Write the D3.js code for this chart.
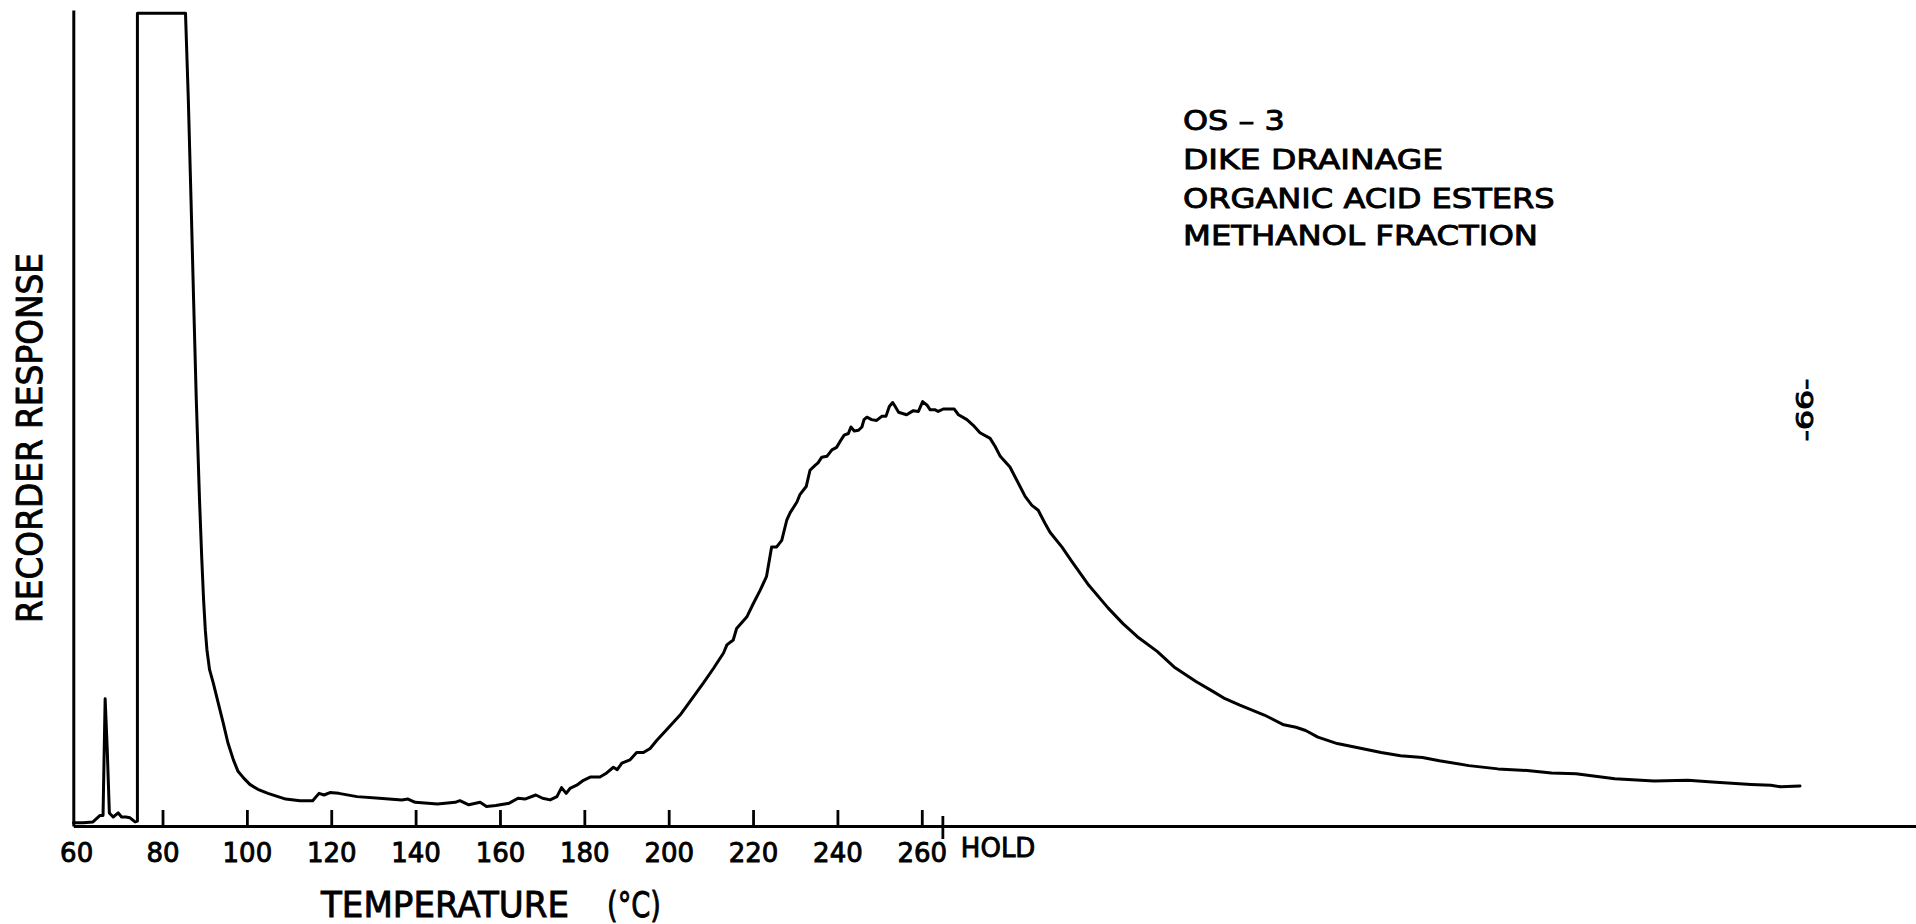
<!DOCTYPE html>
<html><head><meta charset="utf-8">
<script src="https://cdn.jsdelivr.net/npm/d3@7"></script>
<style>
body{margin:0;background:#fff}
svg{display:block}
text{font-family:"DejaVu Sans",sans-serif;fill:#000;stroke:#000;stroke-width:0.9px}
</style>
</head><body>
<svg id="chart" width="1916" height="924"></svg>
<script>
// Chart position along the (temperature-programmed) x axis, °C scale
const temps = [58.9,61.2,63.5,65.2,65.9,66.4,66.9,67.4,68.3,69.5,70.3,71.3,72.3,73.5,74.05,74.05,85.45,86.12,86.76,87.37,88.01,88.77,89.32,89.74,90.15,90.53,91.14,92.04,93.2,94.4,95.5,96.8,97.9,99.2,100.7,102.6,105.0,109.2,112.6,115.6,117.1,118.3,119.7,121.8,126.1,131.4,136.7,138.2,139.9,145.2,149.4,150.5,152.6,155.3,156.8,159.0,162.2,164.3,165.9,168.5,170.1,171.9,173.5,174.6,175.7,176.6,178.2,179.8,181.4,183.7,185.3,186.9,187.8,188.9,190.8,192.4,194.0,195.6,197.2,199.5,202.7,205.8,208.2,210.6,213.0,213.8,215.3,216.1,218.5,220.1,221.7,223.2,224.0,224.4,225.6,226.8,228.0,228.8,230.4,231.1,232.6,233.5,234.7,235.4,236.3,237.5,238.7,239.8,240.6,241.6,242.6,243.2,244.0,245.0,245.8,246.3,247.0,248.1,249.3,250.5,251.5,252.3,253.1,253.7,254.5,256.4,258.0,259.2,260.2,261.2,262.0,263.2,263.9,265.1,266.7,267.7,268.7,270.7,272.2,273.8,276.2,277.4,278.6,280.9,282.5,284.5,286.1,287.6,289.2,290.4,293.2,295.6,299.6,304.2,307.7,311.1,315.8,319.8,325.0,329.0,331.9,335.4,341.2,345.8,348.7,351.0,353.9,358.5,364.3,368.9,373.5,378.7,382.7,389.7,396.6,403.5,409.3,415.1,424.3,433.6,441.6,447.4,456.6,461.3,463.6,468.2];
// Recorder response (arbitrary units, 0 = baseline, 100 = full scale)
const response = [0.4,0.4,0.5,1.3,1.3,15.6,9.3,1.6,1.1,1.6,1.1,1.1,1.0,0.5,0.6,99.6,99.6,89.0,76.7,64.5,52.2,40.0,32.6,27.7,24.0,21.6,19.2,17.5,15.1,12.6,10.2,8.1,6.7,5.9,5.1,4.5,4.0,3.3,3.1,3.1,4.0,3.8,4.1,4.0,3.6,3.4,3.2,3.3,2.9,2.7,2.9,3.1,2.6,2.9,2.4,2.5,2.8,3.4,3.3,3.8,3.4,3.2,3.6,4.7,4.0,4.6,5.0,5.6,6.0,6.0,6.5,7.2,6.9,7.7,8.1,9.0,9.0,9.5,10.5,11.8,13.6,15.8,17.5,19.3,21.2,22.2,22.8,24.2,25.6,27.3,28.9,30.6,33.0,34.2,34.2,35.0,37.5,38.4,39.7,40.6,41.6,43.6,44.2,44.5,45.2,45.3,46.1,46.4,47.1,47.9,48.1,48.9,48.4,48.5,48.9,49.8,50.1,49.8,49.7,50.2,50.2,51.4,51.9,51.4,50.7,50.4,50.9,50.8,52.0,51.6,51.0,51.0,50.8,51.1,51.1,51.1,50.4,49.8,49.1,48.2,47.5,46.5,45.3,44.0,42.4,40.4,39.3,38.7,37.1,36.0,34.2,32.4,29.5,26.7,24.8,23.2,21.4,19.5,17.7,16.5,15.6,14.8,13.6,12.4,12.1,11.7,10.9,10.1,9.5,9.0,8.6,8.4,8.0,7.4,7.0,6.8,6.5,6.4,5.8,5.5,5.6,5.4,5.1,5.0,4.8,4.9];
const tickTemps = [60,80,100,120,140,160,180,200,220,240,260];
const holdTemp = 265;
const holdLabel = "HOLD";
const xTitle = ["TEMPERATURE", "(°C)"];
const yTitle = "RECORDER RESPONSE";
const titleLines = ["OS – 3", "DIKE DRAINAGE", "ORGANIC ACID ESTERS", "METHANOL FRACTION"];
const pageNumber = "-66-";

const svg = d3.select("#chart");
const x = d3.scaleLinear().domain([58.85, 495.7]).range([73.3, 1916]);
const y = d3.scaleLinear().domain([0, 100]).range([826, 10]);

// X axis
const xAxis = d3.axisBottom(x).tickValues(tickTemps).tickSizeInner(-16).tickSizeOuter(0)
  .tickPadding(18).tickFormat(d3.format("d"));
const gx = svg.append("g").attr("transform", "translate(0," + y(0) + ")").call(xAxis);
gx.select(".domain").attr("stroke", "#000").attr("stroke-width", 3);
gx.selectAll(".tick line").attr("stroke", "#000").attr("stroke-width", 2.8);
gx.selectAll(".tick").filter(d => d === 60).select("line").remove();
gx.selectAll(".tick").filter(d => d === 60).select("text").attr("dx", -2);
gx.selectAll(".tick text").attr("font-size", 26).attr("font-family", "DejaVu Sans").attr("fill", "#000");

// Y axis (line only)
const yAxis = d3.axisLeft(y).tickValues([]).tickSizeOuter(0);
const gy = svg.append("g").attr("transform", "translate(" + x.range()[0] + ",0)").call(yAxis);
gy.select(".domain").attr("stroke", "#000").attr("stroke-width", 3);

// HOLD marker
svg.append("line").attr("x1", x(holdTemp)).attr("x2", x(holdTemp))
  .attr("y1", y(0) - 10).attr("y2", y(0) + 13).attr("stroke", "#000").attr("stroke-width", 2.8);
svg.append("text").attr("x", x(holdTemp) + 18).attr("y", 857).attr("font-size", 26).text(holdLabel);

// Trace
const line = d3.line().x(d => x(d[0])).y(d => y(d[1])).curve(d3.curveLinear);
svg.append("path").datum(temps.map((t, i) => [t, response[i]]))
  .attr("d", line).attr("fill", "none").attr("stroke", "#000")
  .attr("stroke-width", 3).attr("stroke-linejoin", "round").attr("stroke-linecap", "round");

// Axis titles
svg.append("text").attr("x", 321).attr("y", 917).attr("font-size", 36)
  .attr("textLength", 248).attr("lengthAdjust", "spacingAndGlyphs").text(xTitle[0]);
svg.append("text").attr("x", 607).attr("y", 917).attr("font-size", 36)
  .attr("textLength", 54).attr("lengthAdjust", "spacingAndGlyphs").text(xTitle[1]);
svg.append("text").attr("transform", "translate(41.5,438) rotate(-90)")
  .attr("text-anchor", "middle").attr("font-size", 36)
  .attr("textLength", 370).attr("lengthAdjust", "spacingAndGlyphs").text(yTitle);

// Title block
const titleLens = [101.7, 260, 371.7, 355];
const titleBase = [130, 169.3, 208.3, 245];
titleLines.forEach((t, i) => {
  svg.append("text").attr("x", 1183).attr("y", titleBase[i]).attr("font-size", 27)
    .attr("textLength", titleLens[i]).attr("lengthAdjust", "spacingAndGlyphs").text(t);
});

// Page number
svg.append("text").attr("transform", "translate(1813,410) rotate(-90)")
  .attr("text-anchor", "middle").attr("font-size", 23)
  .attr("textLength", 63).attr("lengthAdjust", "spacingAndGlyphs").text(pageNumber);
</script>
</body></html>
